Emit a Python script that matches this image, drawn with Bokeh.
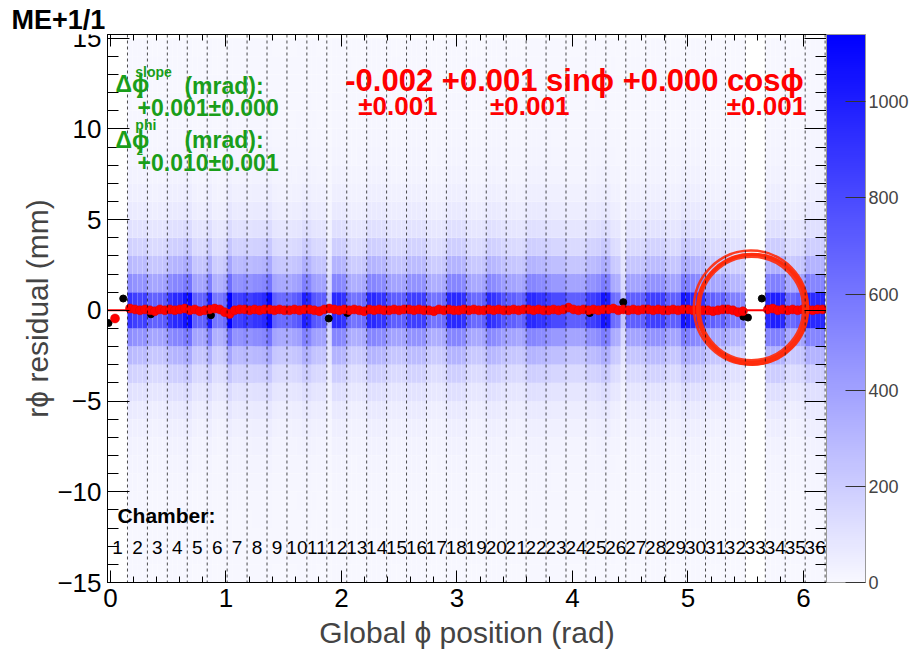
import numpy as np
from bokeh.plotting import figure
from bokeh.models import (Range1d, LinearAxis, ColorBar, LinearColorMapper, FixedTicker,
                          Label, ColumnDataSource, SingleIntervalTicker, Span)
from bokeh.core.properties import value
from bokeh.embed import file_html
from bokeh.resources import INLINE

# ---------------- data ----------------
n_chambers = 36
first_edge = 0.147          # phi (rad) of first dashed chamber boundary
chamber_width = 0.1726      # spacing of the dashed boundaries (rad), as drawn
z_max = 1140
z_ticks = [0, 200, 400, 600, 800, 1000]

# peak counts (central rows) in four phi sub-bins per chamber, chamber 1..36
chamber_counts = [
    [0, 0, 0, 0],            # 1
    [900, 850, 820, 850],    # 2
    [700, 680, 700, 720],    # 3
    [900, 950, 950, 1050],   # 4
    [1100, 700, 680, 700],   # 5
    [1000, 600, 580, 650],   # 6
    [1150, 850, 850, 900],   # 7
    [850, 900, 900, 950],    # 8
    [1100, 700, 650, 650],   # 9
    [650, 700, 750, 1000],   # 10
    [950, 750, 700, 700],    # 11
    [250, 950, 950, 900],    # 12
    [650, 600, 620, 650],    # 13
    [950, 950, 900, 900],    # 14
    [750, 700, 700, 700],    # 15
    [850, 850, 850, 850],    # 16
    [650, 600, 620, 650],    # 17
    [950, 950, 950, 900],    # 18
    [700, 650, 650, 700],    # 19
    [950, 900, 850, 750],    # 20
    [700, 700, 650, 700],    # 21
    [950, 950, 900, 900],    # 22
    [850, 800, 800, 800],    # 23
    [700, 700, 700, 700],    # 24
    [850, 850, 900, 1050],   # 25
    [1000, 650, 600, 250],   # 26
    [700, 700, 700, 700],    # 27
    [850, 850, 850, 850],    # 28
    [700, 700, 700, 1050],   # 29
    [1000, 950, 900, 900],   # 30
    [700, 700, 650, 700],    # 31
    [600, 550, 550, 500],    # 32
    [0, 0, 0, 0],            # 33
    [950, 1000, 1000, 950],  # 34
    [650, 650, 700, 700],    # 35
    [1000, 950, 950, 950],   # 36
]

# fraction of the peak in each 1 mm residual bin, by distance from 0 (|y| bins)
row_profile = [1.0, 0.55, 0.33, 0.2, 0.12, 0.07, 0.045, 0.03,
               0.022, 0.016, 0.012, 0.01, 0.008, 0.007, 0.006]

nan = float("nan")
# red profile points (mm), four per chamber
red_res = [
    [nan, -0.45, nan, nan], [0.10, 0.05, 0.00, 0.05], [0.00, -0.05, 0.05, 0.00],
    [0.05, 0.00, 0.05, 0.10], [0.00, 0.05, -0.05, 0.00], [0.05, 0.10, 0.05, -0.10],
    [-0.20, 0.00, 0.05, 0.05], [0.00, 0.05, 0.00, 0.05], [0.05, 0.00, 0.05, 0.00],
    [0.00, 0.05, 0.00, 0.05], [0.05, 0.00, -0.05, 0.05], [0.10, 0.05, 0.00, 0.05],
    [0.00, 0.05, 0.00, -0.05], [0.05, 0.00, 0.05, 0.00], [0.00, 0.05, 0.00, 0.05],
    [0.05, 0.00, 0.05, 0.00], [0.00, -0.05, 0.05, 0.00], [0.05, 0.00, 0.00, 0.05],
    [0.00, 0.05, 0.00, 0.00], [0.05, 0.00, 0.05, 0.00], [0.00, 0.05, 0.00, 0.05],
    [0.05, 0.00, 0.05, 0.00], [0.00, 0.05, 0.00, 0.05], [0.15, 0.05, 0.00, 0.05],
    [0.00, 0.05, 0.00, 0.05], [0.05, 0.10, 0.00, 0.05], [0.00, 0.05, 0.00, 0.05],
    [0.05, 0.00, 0.05, 0.00], [0.00, 0.05, 0.00, 0.05], [0.05, 0.00, 0.05, 0.00],
    [0.00, -0.05, 0.00, 0.05], [0.05, 0.00, -0.10, -0.05], [nan, nan, nan, nan],
    [0.05, 0.10, 0.00, 0.05], [0.00, 0.05, 0.00, 0.05], [0.05, 0.00, 0.05, 0.05],
]

# black points visible outside the red chain
black_phi = [-0.017, 0.11, 0.35, 0.87, 1.89, 2.05, 4.15, 4.44, 5.48, 5.52, 5.64]
black_res = [-0.70, 0.65, -0.22, -0.27, -0.45, -0.15, -0.15, 0.45, -0.35, -0.40, 0.65]

# fit:  p0 + p1 sin(phi) + p2 cos(phi)
fit_p = [-0.002, 0.001, 0.000]

chamber_names = [str(i) for i in range(1, n_chambers + 1)]

# ---------------- figure ----------------
FONT = "Liberation Sans"
W, H = 914, 655
p = figure(width=W, height=H, output_backend="svg", toolbar_location=None,
           x_range=Range1d(-0.026, 6.2), y_range=Range1d(-15, 15.2),
           min_border_left=107, min_border_right=88, min_border_top=34,
           min_border_bottom=73)
p.background_fill_color = "white"
p.border_fill_color = "white"
p.outline_line_color = "black"
p.xgrid.visible = False
p.ygrid.visible = False

p.title.text = "ME+1/1"
p.title.text_font = FONT
p.title.text_font_size = "27px"
p.title.text_font_style = "bold"
p.title.text_color = "black"
p.title.align = "left"
p.title.offset = -96
p.title.standoff = 0
p.title.background_fill_color = "white"

w = chamber_width
palette = []
for i in range(256):
    t = i / 255.0
    r = int(round(248 * (1 - t)))
    palette.append("#%02x%02x%02x" % (r, r, 255))
mapper = LinearColorMapper(palette=palette, low=0, high=z_max)

left, right, bottom, top, val = [], [], [], [], []
for c in range(n_chambers):
    edge = first_edge + (c - 1) * w
    for q in range(4):
        cnt = chamber_counts[c][q]
        if cnt <= 0:
            continue
        for r in range(30):
            b = -15 + r
            k = r - 15 if r >= 15 else 14 - r
            v = cnt * row_profile[k]
            left.append(edge + q * w / 4)
            right.append(edge + (q + 1) * w / 4)
            bottom.append(b)
            top.append(b + 1)
            val.append(v)
src = ColumnDataSource(dict(left=left, right=right, bottom=bottom, top=top, val=val))
p.quad(left="left", right="right", bottom="bottom", top="top", source=src,
       fill_color={"field": "val", "transform": mapper}, line_color=None)

# chamber boundaries
for k in range(n_chambers):
    e = first_edge + k * w
    if e < 6.2:
        p.add_layout(Span(location=e, dimension="height", line_color="black",
                          line_dash="3 3", line_width=1, line_alpha=0.7))

# fit line
fx = np.linspace(-0.026, 6.2, 200)
fy = fit_p[0] + fit_p[1] * np.sin(fx) + fit_p[2] * np.cos(fx)
p.line(fx, fy, line_color="red", line_width=2)

# black points
p.scatter(black_phi, black_res, size=7, fill_color="black", line_color="black")

# red points
rx, ry = [], []
for c in range(n_chambers):
    edge = first_edge + (c - 1) * w
    for q in range(4):
        yv = red_res[c][q]
        if yv == yv:
            rx.append(edge + (q + 0.5) * w / 4)
            ry.append(yv)
p.scatter(rx, ry, size=9, fill_color="red", line_color="#dd0000", line_width=0.5)

# chamber labels
centers = [first_edge + (c - 0.5) * w for c in range(n_chambers)]
p.text(x=centers, y=[-13.06] * n_chambers, text=chamber_names,
       text_align="center", text_baseline="middle", text_font=value(FONT),
       text_font_size="19px", text_color="black")


def lab(x, y, t, size, color, bold=True, align="left"):
    p.add_layout(Label(x=x, y=y, text=t, text_font=FONT, text_font_size=size,
                       text_color=color, text_font_style="bold" if bold else "normal",
                       text_align=align, text_baseline="middle"))


lab(0.06, -11.3, "Chamber:", "21px", "black")

G = "#1a9e1a"
lab(0.043, 12.45, "Δϕ", "23px", G)
lab(0.215, 13.15, "slope", "14px", G)
lab(0.225, 11.96, "z", "13px", G)
lab(0.64, 12.34, "(mrad):", "23px", G)
lab(0.234, 11.13, "+0.001±0.000", "23px", G)
lab(0.043, 9.37, "Δϕ", "23px", G)
lab(0.215, 10.2, "phi", "14px", G)
lab(0.225, 8.8, "z", "13px", G)
lab(0.64, 9.37, "(mrad):", "23px", G)
lab(0.234, 8.1, "+0.010±0.001", "23px", G)

lab(2.033, 12.67, "-0.002 +0.001 sinϕ +0.000 cosϕ", "31px", "red")
lab(2.145, 11.24, "±0.001", "26px", "red")
lab(3.287, 11.24, "±0.001", "26px", "red")
lab(5.337, 11.24, "±0.001", "26px", "red")

# hand-drawn circle around chamber 33
p.scatter([5.55, 5.56, 5.545, 5.552], [0.1, 0.05, 0.15, 0.12], size=[105, 110, 114, 108],
          marker="circle", fill_color=None, line_color="#ff2a0a",
          line_width=[4, 3, 2.5, 3], line_alpha=0.9)

# axes
p.xaxis.ticker = SingleIntervalTicker(interval=1, num_minor_ticks=5)
p.yaxis.ticker = SingleIntervalTicker(interval=5, num_minor_ticks=5)
p.yaxis.major_label_overrides = {-15: "−15", -10: "−10", -5: "−5"}
for ax, big in ((p.xaxis, 12), (p.yaxis, 22)):
    ax.major_tick_in = big
    ax.major_tick_out = 0
    ax.minor_tick_in = big // 2
    ax.minor_tick_out = 0
    ax.axis_line_color = "black"
    ax.major_tick_line_color = "black"
    ax.minor_tick_line_color = "black"
    ax.major_label_text_font = FONT
    ax.axis_label_text_font = FONT
    ax.axis_label_text_font_style = "normal"
    ax.axis_label_text_font_size = "30px"
    ax.major_label_text_font_size = "26px"
    ax.major_label_text_color = "black"
p.xaxis.axis_label = "Global ϕ position (rad)"
p.yaxis.axis_label = "rϕ residual (mm)"
p.xaxis.major_label_standoff = 6
p.xaxis.axis_label_standoff = 6
p.yaxis.major_label_standoff = 6
p.yaxis.axis_label_standoff = 0

top_ax = LinearAxis(ticker=SingleIntervalTicker(interval=1, num_minor_ticks=5),
                    major_tick_in=12, major_tick_out=0, minor_tick_in=6, minor_tick_out=0,
                    major_label_text_font_size="0px", major_label_standoff=0,
                    major_label_text_alpha=0)
p.add_layout(top_ax, "above")
right_ax = LinearAxis(ticker=SingleIntervalTicker(interval=5, num_minor_ticks=5),
                      major_tick_in=22, major_tick_out=0, minor_tick_in=11, minor_tick_out=0,
                      major_label_text_font_size="0px", major_label_standoff=0,
                      major_label_text_alpha=0)
p.add_layout(right_ax, "right")

cb = ColorBar(color_mapper=mapper, ticker=FixedTicker(ticks=z_ticks), width=39,
              padding=0, margin=5, label_standoff=3,
              major_label_text_font=FONT, major_label_text_font_size="18px",
              major_tick_in=20, major_tick_out=0, major_tick_line_color="#333333",
              minor_tick_line_color=None, bar_line_color="#999999", bar_line_width=1,
              background_fill_color=None)
p.add_layout(cb, "right")

open("out.html", "w").write(file_html(p, INLINE))
